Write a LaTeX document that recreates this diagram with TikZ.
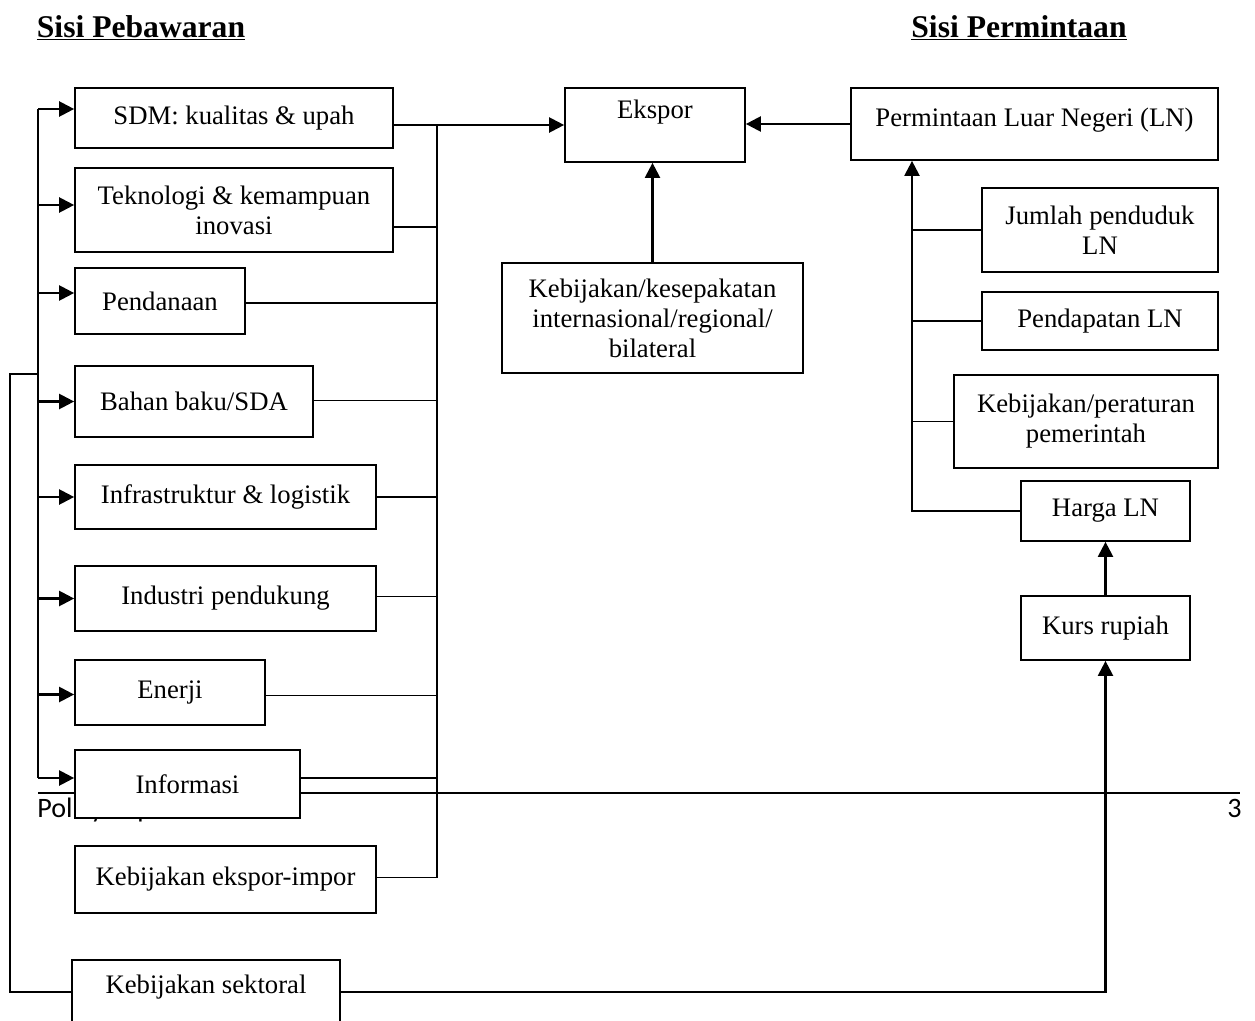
\documentclass[tikz,border=0pt]{standalone}
\usepackage{fontspec}
\setmainfont{Liberation Serif}
\newfontfamily\footfont{Carlito}
\usetikzlibrary{arrows.meta,positioning}

\begin{document}
\begin{tikzpicture}[x=0.02cm,y=-0.02cm]
\tikzset{
  box/.style={draw,line width=1pt,fill=white,align=center,inner sep=1pt,font=\fontsize{15.2}{17}\selectfont},
  arw/.style={-{Triangle[length=3mm,width=3mm]},line width=1.3pt},
  link/.style={line width=1.1pt},
  thinlink/.style={line width=0.95pt},
  heading/.style={font=\fontsize{18}{21}\selectfont\bfseries},
  footer/.style={font=\footfont\fontsize{16}{19}\selectfont,inner sep=0pt}
}
\useasboundingbox (0,0) rectangle (1255,1021);

% page footer (lies under the boxes)
\coordinate (fleft) at (38,793);
\coordinate (fright) at (1240,793);
\draw[line width=0.9pt] (fleft) -- (fright);
\node[footer,anchor=base west] (fpage) at (37,817) {Policy Paper};
\node[footer,anchor=base east] (fnum) at (1242,817) {3};

% headings
\node[heading] (hsupply) at (141,28) {\underline{Sisi Pebawaran}};
\node[heading] (hdemand) at (1019,28) {\underline{Sisi Permintaan}};

% supply side
\node[box,minimum width=6.36cm,minimum height=1.2cm] (sdm) at (234,118) {SDM: kualitas \& upah};
\node[box,minimum width=6.36cm,minimum height=1.68cm] (tek) at (234,210) {Teknologi \& kemampuan\\inovasi};
\node[box,minimum width=3.4cm,minimum height=1.32cm] (pend) at (160,301) {Pendanaan};
\node[box,minimum width=4.76cm,minimum height=1.42cm] (bahan) at (194,401.5) {Bahan baku/SDA};
\node[box,minimum width=6.02cm,minimum height=1.28cm] (infra) at (225.5,497) {Infrastruktur \& logistik};
\node[box,minimum width=6.02cm,minimum height=1.3cm] (indus) at (225.5,598.5) {Industri pendukung};
\node[box,minimum width=3.8cm,minimum height=1.3cm] (enerji) at (170,692.5) {Enerji};
\node[box,minimum width=4.5cm,minimum height=1.36cm] (info) at (187.5,784) {Informasi};
\node[box,minimum width=6.02cm,minimum height=1.34cm] (kebexp) at (225.5,879.5) {Kebijakan ekspor-impor};
\node[box,minimum width=5.36cm,minimum height=1.28cm,text depth=0.3cm] (kebsek) at (206,992) {Kebijakan sektoral};

% centre
\node[box,minimum width=3.6cm,minimum height=1.48cm,text depth=0.62cm] (ekspor) at (655,125) {Ekspor};
\node[box,minimum width=6.02cm,minimum height=2.2cm] (kebint) at (652.5,318) {Kebijakan/kesepakatan\\internasional/regional/\\bilateral};

% demand side
\node[box,minimum width=7.34cm,minimum height=1.44cm,text depth=0.26cm] (perm) at (1034.5,124) {Permintaan Luar Negeri (LN)};
\node[box,minimum width=4.72cm,minimum height=1.68cm] (jumlah) at (1100,230) {Jumlah penduduk\\LN};
\node[box,minimum width=4.72cm,minimum height=1.16cm] (pendap) at (1100,321) {Pendapatan LN};
\node[box,minimum width=5.28cm,minimum height=1.86cm] (kebper) at (1086,421.5) {Kebijakan/peraturan\\pemerintah};
\node[box,minimum width=3.38cm,minimum height=1.2cm] (harga) at (1105.5,511) {Harga LN};
\node[box,minimum width=3.38cm,minimum height=1.28cm] (kurs) at (1105.5,628) {Kurs rupiah};

% left feed line
\coordinate (lbus) at (38,109);
\coordinate (ljoin) at (38,374);
\coordinate (louter) at (10,374);
\foreach \n/\dy in {sdm/9,tek/5,pend/8,bahan/0,infra/0,indus/0,enerji/-2,info/6}{
  \path ([yshift=\dy*0.02cm]\n.west) coordinate (\n-in);
  \draw[arw] (lbus |- \n-in) -- (\n-in);
}
\draw[link] (lbus) -- (lbus |- info-in);
\draw[thinlink] (kebsek.west) -| (louter) -- (ljoin);

% right collecting line
\coordinate (rbus) at (437,125);
\draw[arw] (sdm.east |- ekspor.west) -- (ekspor.west);
\foreach \n/\dy in {tek/-17,pend/-2,bahan/1,infra/0,indus/2,enerji/-3,info/6,kebexp/2}{
  \path ([yshift=\dy*0.02cm]\n.east) coordinate (\n-out);
  \draw[thinlink] (\n-out) -- (rbus |- \n-out);
}
\draw[link] (rbus) -- (rbus |- kebexp-out);

% centre arrows
\draw[arw] (kebint.north) -- (kebint.north |- ekspor.south);
\draw[arw] (perm.west) -- (perm.west -| ekspor.east);

% demand collecting line
\coordinate (dbus) at (912,0);
\draw[arw] (harga.west) -| (perm.south -| dbus);
\foreach \n in {jumlah,pendap,kebper}
  \draw[thinlink] (\n.west) -- (\n.west -| dbus);
\draw[arw] (kurs) -- (harga);
\draw[arw] (kebsek.east) -| (kurs.south);
\end{tikzpicture}
\end{document}
